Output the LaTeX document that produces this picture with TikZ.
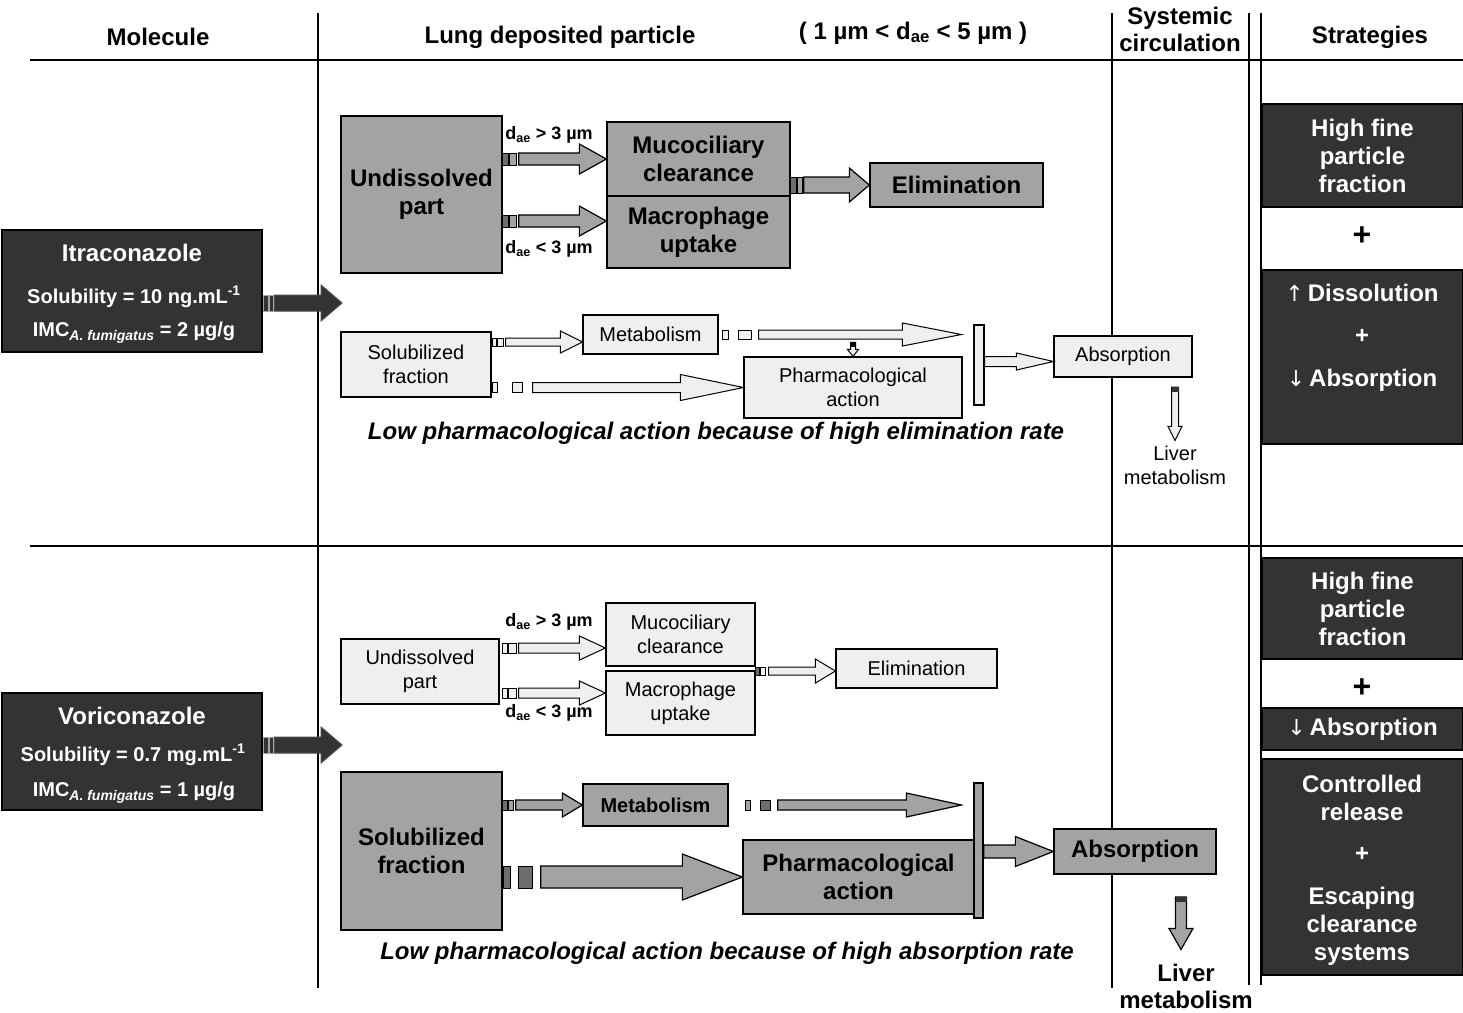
\documentclass[tikz,border=0pt]{standalone}
\usepackage{fontspec}
\setmainfont{Liberation Sans}
\newfontfamily\dvfont{DejaVu Sans}
\usetikzlibrary{calc}
\definecolor{dk}{HTML}{333333}
\definecolor{gy}{HTML}{A3A3A3}
\definecolor{lt}{HTML}{EFEFEF}
\definecolor{gyd}{HTML}{6E6E6E}
\newcommand\barrow[8]{%
  \draw[#6] let \p1=(#1), \p2=(#2) in
    (\x1+#7pt,\y1+#3pt) -- (\x2-#5pt,\y1+#3pt) -- (\x2-#5pt,\y1+#4pt) -- (\x2,\y1)
    -- (\x2-#5pt,\y1-#4pt) -- (\x2-#5pt,\y1-#3pt) -- (\x1+#7pt,\y1-#3pt) -- cycle;
  \foreach \a/\b/\s in {#8}{\draw[\s] let \p1=(#1) in (\x1+\a pt,\y1-#3pt) rectangle (\x1+\b pt,\y1+#3pt);}%
}
\newcommand\barrowplain[6]{%
  \draw[#6] let \p1=(#1), \p2=(#2) in
    (\x1,\y1+#3pt) -- (\x2-#5pt,\y1+#3pt) -- (\x2-#5pt,\y1+#4pt) -- (\x2,\y1)
    -- (\x2-#5pt,\y1-#4pt) -- (\x2-#5pt,\y1-#3pt) -- (\x1,\y1-#3pt) -- cycle;
}
\newcommand\vbarrow[7]{%
  \draw[#6] let \p1=(#1), \p2=(#2) in
    (\x1-#3pt,\y1) -- (\x1-#3pt,\y2+#5pt) -- (\x1-#4pt,\y2+#5pt) -- (\x1,\y2)
    -- (\x1+#4pt,\y2+#5pt) -- (\x1+#3pt,\y2+#5pt) -- (\x1+#3pt,\y1) -- cycle;
  \fill[#7] let \p1=(#1) in (\x1-#3pt,\y1) rectangle (\x1+#3pt,\y1-5pt);
}
\newcommand\imcsub[1]{\raisebox{-4pt}{\fontsize{14}{14}\selectfont\itshape #1}}
\tikzset{
  sep/.style={draw=black, line width=1.1pt},
  dbox/.style={draw=black, line width=1.2pt, fill=dk, text=white, align=center, inner sep=0pt,
    font=\bfseries\fontsize{24}{28}\selectfont},
  gbox/.style={draw=black, line width=1.3pt, fill=gy, align=center, inner sep=0pt,
    font=\bfseries\fontsize{24}{28}\selectfont},
  lbox/.style={draw=black, line width=1.1pt, fill=lt, align=center, inner sep=0pt,
    font=\fontsize{20}{24}\selectfont},
  hdr/.style={align=center, inner sep=1pt, font=\bfseries\fontsize{24}{27}\selectfont},
  dtxt/.style={text=white, inner sep=1pt, font=\bfseries\fontsize{24}{28}\selectfont, align=center},
  dtxts/.style={text=white, inner sep=1pt, font=\bfseries\fontsize{20}{24}\selectfont},
  dlab/.style={inner sep=1pt, font=\bfseries\fontsize{18}{20}\selectfont},
  itx/.style={inner sep=1pt, font=\bfseries\itshape\fontsize{24}{28}\selectfont},
  ntxt/.style={inner sep=2pt, align=center, font=\fontsize{20}{24}\selectfont},
  btxt/.style={inner sep=2pt, align=center, font=\bfseries\fontsize{24}{27}\selectfont},
  plus/.style={inner sep=1pt, font=\bfseries\fontsize{32}{34}\selectfont},
  darr/.style={draw=gray!60!black, line width=1pt, fill=dk},
  dsq/.style={draw=gray!70, line width=0.8pt, fill=dk},
  garr/.style={draw=black, line width=1.2pt, fill=gy},
  gsq/.style={draw=black, line width=1pt, fill=gy},
  gsqd/.style={draw=black, line width=1pt, fill=gyd},
  larr/.style={draw=black, line width=1pt, fill=lt},
  lsq/.style={draw=black, line width=1pt, fill=lt},
}
\begin{document}
\begin{tikzpicture}[x=1pt,y=-1pt]
\useasboundingbox (0,0) rectangle (1463,1012);
\fill[white] (0,0) rectangle (1463,1012);
% separators
\draw[sep] (30,60) -- (1463,60);
\draw[sep, line width=1.8pt] (30,546) -- (1463,546);
\draw[sep] (318,13) -- (318,988);
\draw[sep] (1112,13) -- (1112,988);
\draw[sep] (1249,13) -- (1249,985);
\draw[sep] (1261,13) -- (1261,985);
% headers
\node[hdr] (hmol) at (158,37) {Molecule};
\node[hdr] (hlung) at (560,37) {Lung deposited particle};
\node[hdr] (hsize) at (913,33) {( 1 µm < d\textsubscript{ae} < 5 µm )};
\node[hdr] (hsys) at (1180,29) {Systemic\\circulation};
\node[hdr] (hstr) at (1370,37) {Strategies};

% ================= TOP: Itraconazole =================
\node[dbox, minimum width=260, minimum height=122] (itra) at (132,291) {};
\node[dtxt] (it1) at (132,253) {Itraconazole};
\node[dtxts] (it2) at (134,297) {Solubility = 10 ng.mL\textsuperscript{-1}};
\node[dtxts] (it3) at (134,333) {IMC\imcsub{A. fumigatus} = 2 µg/g};
\coordinate (lung1) at (342,303);
\barrow{$(itra.east)+(0,12)$}{lung1}{8}{18}{21}{darr}{12}{1/6/dsq,7/11/dsq}

\node[gbox, minimum width=161, minimum height=157] (undis1) at (421.5,194.5) {Undissolved\\part};
\node[gbox, minimum width=183, minimum height=74] (muco1) at (698.5,159) {Mucociliary\\clearance};
\node[gbox, minimum width=183, minimum height=72] (macro1) at (698.5,232) {Macrophage\\uptake};
\node[gbox, minimum width=173, minimum height=44] (elim1) at (956.5,185) {Elimination};
\barrow{undis1.east |- muco1.west}{muco1.west}{6}{15}{27}{garr}{16}{0/6/gsqd,7/14/gsq}
\barrow{$(undis1.east |- macro1.west)+(0,-11)$}{macro1.west}{6}{15}{27}{garr}{16}{0/6/gsqd,7/14/gsq}
\barrow{muco1.south east |- elim1.west}{elim1.west}{8}{17}{20}{garr}{13}{0/6/gsqd,7/12/gsq}
\node[dlab] (d1) at (549,135) {d\textsubscript{ae} > 3 µm};
\node[dlab] (d2) at (549,249) {d\textsubscript{ae} < 3 µm};

\node[lbox, minimum width=150, minimum height=65] (sol1) at (416,364.5) {Solubilized\\fraction};
\node[lbox, minimum width=135, minimum height=39] (met1) at (650.5,334.5) {Metabolism};
\node[lbox, minimum width=218, minimum height=61] (ph1) at (853,387.5) {Pharmacological\\action};
\node[lbox, minimum width=10, minimum height=80] (tb1) at (979,365) {};
\node[lbox, minimum width=138, minimum height=41] (abs1) at (1123,356.5) {Absorption};
\barrow{$(sol1.east |- met1.west)+(0,7.5)$}{met1.west}{4}{11}{22}{larr}{14}{1/5/lsq,6/12/lsq}
\barrow{met1.east}{$(tb1.west)+(-12,0)$}{4.5}{11.5}{59}{larr}{40}{4/10/lsq,20/33/lsq}
\barrow{sol1.east |- ph1.west}{ph1.west}{5}{13}{63}{larr}{41}{1/6/lsq,21/31/lsq}
\vbarrow{$(ph1.north)+(0,-14)$}{ph1.north}{2.5}{5.5}{7}{larr}{black}
\barrowplain{$(tb1.east |- abs1.west)+(0,5)$}{$(abs1.west)+(0,5)$}{5}{8.5}{37}{larr}
\node[ntxt] (liv1) at (1175,465) {Liver\\metabolism};
\coordinate (lv1) at (1175,387);
\vbarrow{lv1}{$(liv1.north)+(0,-3)$}{3.5}{7}{14}{larr}{dk}
\node[itx] (low1) at (716,433) {Low pharmacological action because of high elimination rate};

\node[dbox, minimum width=201, minimum height=103] (s1a) at (1362.5,155.5) {High fine\\particle\\fraction};
\node[plus] (p1) at (1362,236) {+};
\node[dbox, minimum width=201, minimum height=174] (s1b) at (1362.5,357) {};
\node[dtxt] (s1b1) at (1362,293) {{\dvfont\mdseries\fontsize{22}{26}\selectfont ↑}\,Dissolution};
\node[dtxt] (s1b2) at (1362,336) {+};
\node[dtxt] (s1b3) at (1362,380) {{\dvfont\mdseries\fontsize{22}{26}\selectfont ↓}\,Absorption};

% ================= BOTTOM: Voriconazole =================
\node[dbox, minimum width=260, minimum height=117] (vori) at (132,751.5) {};
\node[dtxt] (vo1) at (132,716) {Voriconazole};
\node[dtxts] (vo2) at (133,755) {Solubility = 0.7 mg.mL\textsuperscript{-1}};
\node[dtxts] (vo3) at (134,793) {IMC\imcsub{A. fumigatus} = 1 µg/g};
\coordinate (lung2) at (342,745);
\barrow{$(vori.east)+(0,-6.5)$}{lung2}{8}{18}{21}{darr}{12}{1/6/dsq,7/11/dsq}

\node[lbox, minimum width=158, minimum height=65] (undis2) at (420,671.5) {Undissolved\\part};
\node[lbox, minimum width=149, minimum height=63] (muco2) at (680.5,634.5) {Mucociliary\\clearance};
\node[lbox, minimum width=149, minimum height=64] (macro2) at (680.5,703) {Macrophage\\uptake};
\node[lbox, minimum width=161, minimum height=39] (elim2) at (916.5,668.5) {Elimination};
\barrow{$(undis2.east)+(0,-23.5)$}{muco2.west}{5}{12}{26}{larr}{19}{3/8/lsq,9/17/lsq}
\barrow{$(undis2.east)+(0,21.5)$}{macro2.west}{5}{12}{26}{larr}{19}{3/8/lsq,9/17/lsq}
\barrow{$(macro2.north east |- elim2.west)+(0,2.5)$}{elim2.west}{4}{12}{20}{larr}{13}{0/4/gsqd,5/10/lsq}
\node[dlab] (d3) at (549,622) {d\textsubscript{ae} > 3 µm};
\node[dlab] (d4) at (549,713) {d\textsubscript{ae} < 3 µm};

\node[gbox, minimum width=161, minimum height=158] (sol2) at (421.5,851) {Solubilized\\fraction};
\node[gbox, minimum width=145, minimum height=42, font=\bfseries\fontsize{20}{24}\selectfont] (met2) at (655.5,805) {Metabolism};
\node[gbox, minimum width=231, minimum height=74] (ph2) at (858.5,877) {Pharmacological\\action};
\node[gbox, minimum width=9, minimum height=135] (tb2) at (978.5,850.5) {};
\node[gbox, minimum width=162, minimum height=45] (abs2) at (1135,851.5) {Absorption};
\barrow{sol2.east |- met2.west}{met2.west}{5}{12}{20}{garr}{13}{0/5/gsqd,6/11/gsq}
\barrow{met2.east}{$(tb2.west)+(-12,0)$}{5}{12}{55}{garr}{49}{17/22/gsq,32/42/gsqd}
\barrow{sol2.east |- ph2.west}{ph2.west}{11}{23}{60}{garr}{38}{1/8/gsqd,16/30/gsqd}
\barrowplain{tb2.east |- abs2.west}{abs2.west}{6.5}{15}{38}{garr}
\node[btxt] (liv2) at (1186,986) {Liver\\metabolism};
\coordinate (lv2) at (1181,897);
\vbarrow{lv2}{$(liv2.north)+(0,-12)$}{5.5}{12}{21}{garr}{dk}
\node[itx] (low2) at (727,953) {Low pharmacological action because of high absorption rate};

\node[dbox, minimum width=201, minimum height=101] (s2a) at (1362.5,608.5) {High fine\\particle\\fraction};
\node[plus] (p2) at (1362,688) {+};
\node[dbox, minimum width=201, minimum height=42] (s2b) at (1362.5,729) {{\dvfont\mdseries\fontsize{22}{26}\selectfont ↓}\,Absorption};
\node[dbox, minimum width=201, minimum height=216] (s2c) at (1362.5,867) {};
\node[dtxt] (s2c1) at (1362,797.5) {Controlled\\release};
\node[dtxt] (s2c2) at (1362,854) {+};
\node[dtxt] (s2c3) at (1362,926.5) {Escaping\\clearance\\systems};
\end{tikzpicture}
\end{document}
